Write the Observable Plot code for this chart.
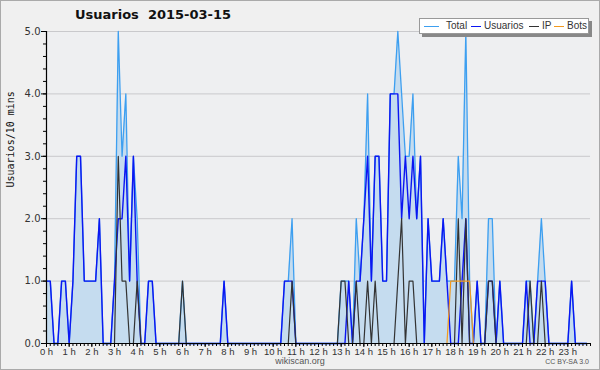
<!DOCTYPE html>
<html><head><meta charset="utf-8">
<script src="https://cdn.jsdelivr.net/npm/d3@7"></script>
<script src="https://cdn.jsdelivr.net/npm/@observablehq/plot@0.6"></script>
<style>
html,body{margin:0;padding:0;background:#fff;}
#wrap{position:relative;width:600px;height:370px;background:#f0f0f0;font-family:"DejaVu Sans",sans-serif;color:#222;}
#border{position:absolute;left:0;top:0;width:600px;height:370px;box-sizing:border-box;border:1px solid #aaa;pointer-events:none;}
#chart{position:absolute;left:0;top:0;}
#title{position:absolute;left:75px;top:7px;font-weight:bold;font-size:13px;white-space:pre;color:#111;}
#legend{position:absolute;left:419px;top:18px;width:170px;height:16px;box-sizing:border-box;background:#fff;border:1px solid #999;box-shadow:3px 3px 0 #888;font-family:"Liberation Sans",sans-serif;font-size:10px;color:#333;}
#legend .sw{position:absolute;top:7px;height:1px;}
#legend .tx{position:absolute;top:1px;line-height:12px;white-space:nowrap;}
#foot1{position:absolute;left:0;width:600px;top:356px;text-align:center;font-family:"Liberation Sans",sans-serif;font-size:9px;color:#555;}
#foot2{position:absolute;right:11px;top:358px;font-family:"Liberation Sans",sans-serif;font-size:7px;color:#555;}
</style></head><body>
<div id="wrap">
<div id="chart"></div>
<div id="title"></div>
<div id="legend"></div>
<div id="foot1">wikiscan.org</div>
<div id="foot2">CC BY-SA 3.0</div>
<div id="border"></div>
</div>
<script>
const titleText = "Usuarios  2015-03-15";
const yLabel = "Usuarios/10 mins";
const seriesNames = ["Total", "Usuarios", "IP", "Bots"];
const seriesColors = ["#3d9ff0", "#0b16f2", "#333333", "#f39a1e"];
const hourLabels = d3.range(0, 24).map(h => h + " h");
const yTicks = [0, 1, 2, 3, 4, 5];

// 144 ten-minute slots, one row per hour (6 values)
const total = [
  1,1,0,0,1,1, 0,1,3,3,1,1, 1,1,2,0,0,0, 1,5,3,4,1,3,
  2,0,0,1,1,0, 0,0,0,0,0,0, 1,0,0,0,0,0, 0,0,0,0,0,1,
  0,0,0,0,0,0, 0,0,0,0,0,0, 0,0,0,1,1,2, 0,0,0,0,0,0,
  0,0,0,0,0,0, 1,1,1,0,2,1, 2,4,1,3,3,1, 1,4,4,5,4,3,
  3,4,2,3,0,2, 1,1,1,2,1,1, 1,3,2,5,1,0, 1,0,0,2,2,0,
  1,0,0,0,0,0, 0,1,1,0,1,2, 1,0,0,0,0,0, 0,1,0,0,0,0
];
const usuarios = [
  1,1,0,0,1,1, 0,1,3,3,1,1, 1,1,2,0,0,0, 1,2,2,3,1,3,
  1,0,0,1,1,0, 0,0,0,0,0,0, 0,0,0,0,0,0, 0,0,0,0,0,1,
  0,0,0,0,0,0, 0,0,0,0,0,0, 0,0,0,1,1,1, 0,0,0,0,0,0,
  0,0,0,0,0,0, 0,0,1,0,1,1, 2,3,1,3,3,1, 1,4,4,4,2,3,
  2,3,2,3,0,2, 1,1,1,2,1,0, 0,0,1,2,0,0, 1,0,0,1,1,0,
  1,0,0,0,0,0, 0,1,0,0,1,1, 1,0,0,0,0,0, 0,1,0,0,0,0
];
const ip = [
  0,0,0,0,0,0, 0,0,0,0,0,0, 0,0,0,0,0,0, 0,3,1,1,0,0,
  1,0,0,0,0,0, 0,0,0,0,0,0, 1,0,0,0,0,0, 0,0,0,0,0,0,
  0,0,0,0,0,0, 0,0,0,0,0,0, 0,0,0,0,0,1, 0,0,0,0,0,0,
  0,0,0,0,0,0, 1,1,0,0,1,0, 0,1,0,1,0,0, 0,0,0,1,2,0,
  1,1,0,0,0,0, 0,0,0,0,0,0, 0,2,0,2,0,0, 0,0,0,1,1,0,
  0,0,0,0,0,0, 0,0,1,0,0,1, 0,0,0,0,0,0, 0,0,0,0,0,0
];
const bots = [
  0,0,0,0,0,0, 0,0,0,0,0,0, 0,0,0,0,0,0, 0,0,0,0,0,0,
  0,0,0,0,0,0, 0,0,0,0,0,0, 0,0,0,0,0,0, 0,0,0,0,0,0,
  0,0,0,0,0,0, 0,0,0,0,0,0, 0,0,0,0,0,0, 0,0,0,0,0,0,
  0,0,0,0,0,0, 0,0,0,0,0,0, 0,0,0,0,0,0, 0,0,0,0,0,0,
  0,0,0,0,0,0, 0,0,0,0,0,1, 1,1,1,1,1,0, 0,0,0,0,0,0,
  0,0,0,0,0,0, 0,0,0,0,0,0, 0,0,0,0,0,0, 0,0,0,0,0,0
];

const rows = total.map((v, i) => ({t: i / 6, total: v, usuarios: usuarios[i], ip: ip[i], bots: bots[i]}));
const minorX = d3.range(0, 145).map(i => i / 6);
const minorY = d3.range(0, 26).map(i => i / 5);

const chart = Plot.plot({
  width: 600, height: 370,
  marginLeft: 46, marginRight: 10, marginTop: 31, marginBottom: 27,
  x: {domain: [0, 24], axis: null, label: null},
  y: {domain: [0, 5], axis: null, label: null},
  style: {background: "transparent", fontFamily: '"DejaVu Sans",sans-serif', color: "#222"},
  marks: [
    Plot.frame({fill: "#eeeff1", stroke: null}),
    Plot.gridY(yTicks.slice(1), {stroke: "#c9c9cc", strokeOpacity: 1, strokeWidth: 1}),
    Plot.areaY(rows, {x: "t", y: "total", fill: "#c5dcef", fillOpacity: 1}),
    Plot.lineY(rows, {x: "t", y: "total", stroke: seriesColors[0], strokeWidth: 1.3}),
    Plot.lineY(rows, {x: "t", y: "usuarios", stroke: seriesColors[1], strokeWidth: 1.4}),
    Plot.lineY(rows, {x: "t", y: "ip", stroke: seriesColors[2], strokeWidth: 1.2}),
    Plot.lineY(rows, {x: "t", y: "bots", stroke: seriesColors[3], strokeWidth: 1.2}),
    Plot.ruleY([0], {stroke: "#000", strokeWidth: 1.2}),
    Plot.ruleX([0], {stroke: "#000", strokeWidth: 1.2}),
    Plot.axisY(minorY, {tickSize: 3, tickFormat: () => "", stroke: "#000", label: null}),
    Plot.axisY(yTicks, {tickSize: 5, tickPadding: 1, tickFormat: d => d.toFixed(1), fontSize: 10, stroke: "#000", fill: "#333", label: null}),
    Plot.axisX(minorX, {tickSize: 3, tickFormat: () => "", stroke: "#000", label: null}),
    Plot.axisX(d3.range(0, 24), {tickSize: 4, tickPadding: 1, tickFormat: (d, i) => hourLabels[i], fontSize: 9.5, fontFamily: '"Liberation Sans",sans-serif', stroke: "#000", fill: "#333", label: null}),
    Plot.text([yLabel], {frameAnchor: "left", dx: -36, rotate: -90, fontSize: 10, fontFamily: '"DejaVu Sans Mono",monospace', fill: "#111"})
  ]
});
document.getElementById("chart").appendChild(chart);
document.getElementById("title").textContent = titleText;

// legend layout (positions inside the legend box)
const legSw = [[4, 15], [51, 10], [109, 10], [134, 10]];
const legTx = [26, 64, 122, 147];
const leg = document.getElementById("legend");
seriesNames.forEach((n, i) => {
  const sw = document.createElement("div");
  sw.className = "sw";
  sw.style.left = legSw[i][0] + "px";
  sw.style.width = legSw[i][1] + "px";
  sw.style.backgroundColor = seriesColors[i];
  leg.appendChild(sw);
  const tx = document.createElement("div");
  tx.className = "tx";
  tx.style.left = legTx[i] + "px";
  tx.textContent = n;
  leg.appendChild(tx);
});
</script>
</body></html>
